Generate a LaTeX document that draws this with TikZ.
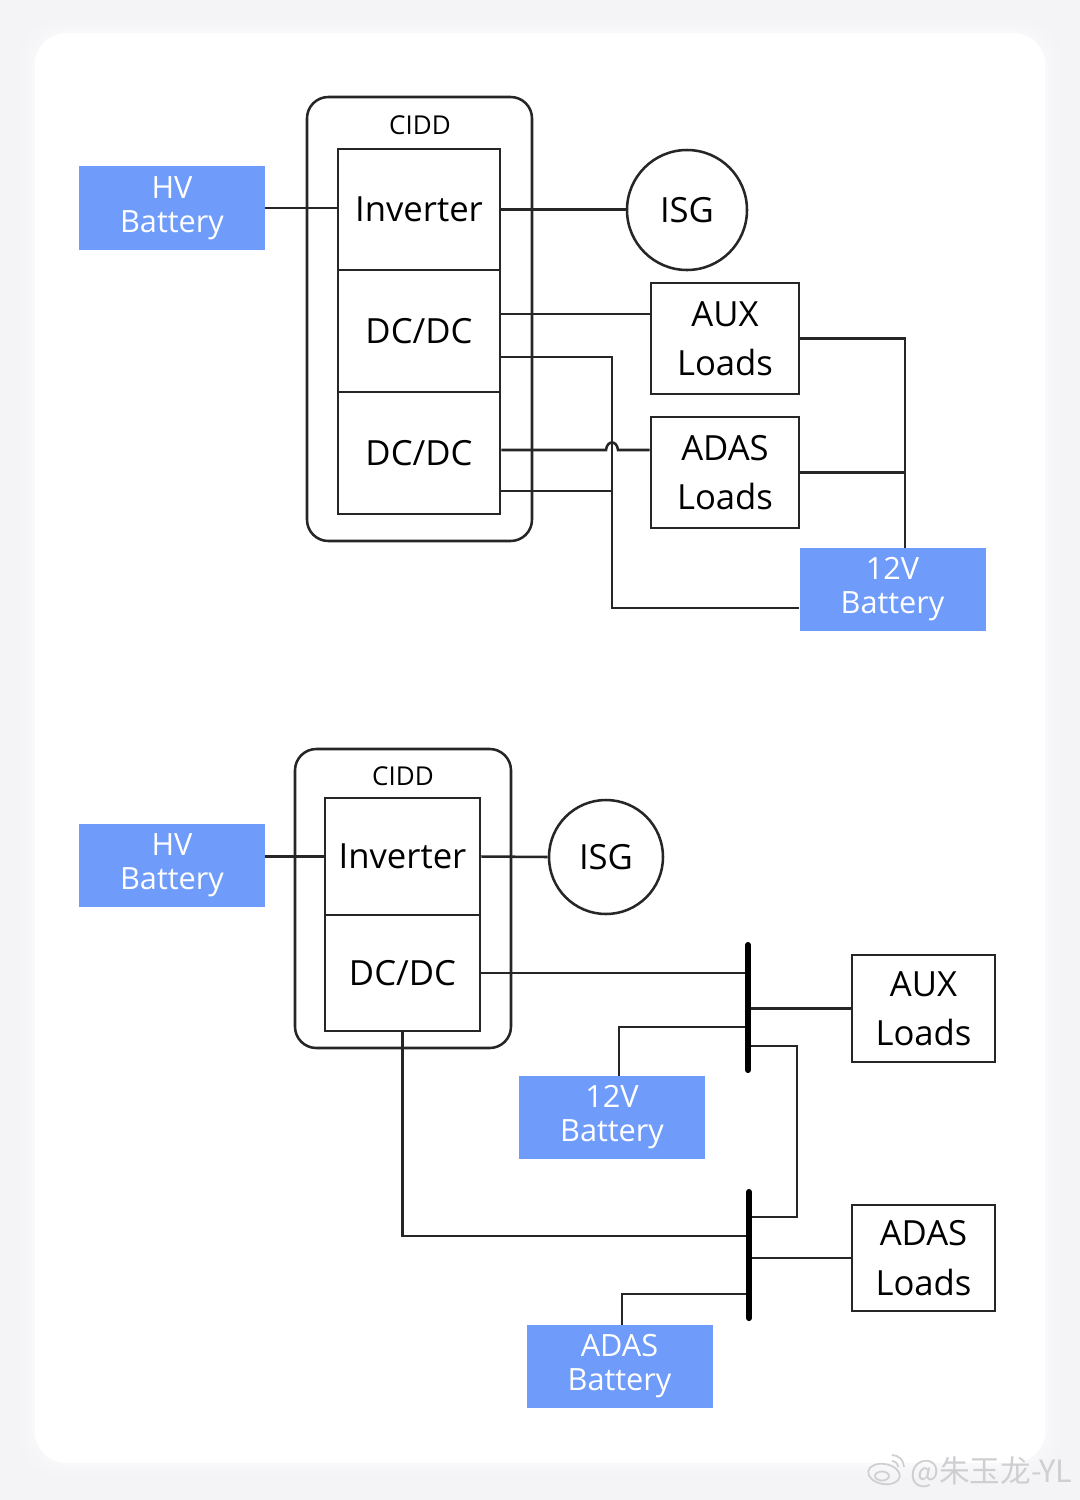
\documentclass[tikz,border=0pt]{standalone}
\usepackage{fontspec}
\setmainfont{Open Sans}
\newfontfamily\cjk{Noto Sans CJK SC}
\usetikzlibrary{calc}
\definecolor{bat}{HTML}{6F9CFB}
\definecolor{bgc}{HTML}{F4F4F7}
\definecolor{wm}{HTML}{CFCFD2}
\tikzset{
  wire/.style={line width=1.9pt, draw=black!85},
  bus/.style={line width=4.6pt, draw=black, line cap=round},
  battery/.style={fill=bat, text=white, inner sep=0pt, align=center,
     font=\fontsize{23}{25.5}\selectfont, minimum width=139.5pt, minimum height=62.5pt},
  blk/.style={draw=black!85, line width=1.9pt, fill=white, inner sep=0pt, align=center,
     font=\fontsize{26}{37}\selectfont},
  cidd/.style={draw=black!85, line width=1.9pt, rounded corners=16pt, inner sep=0pt},
  ciddlbl/.style={font=\fontsize{19.5}{22}\selectfont, inner sep=0pt},
  isgc/.style={circle, draw=black!85, line width=1.9pt, inner sep=0pt, font=\fontsize{26}{30}\selectfont},
}
\begin{document}
\begin{tikzpicture}[x=0.75pt,y=-0.75pt]
\useasboundingbox (0,0) rectangle (1080,1500);
% background and card
\fill[bgc] (0,0) rectangle (1080,1500);
\foreach \d/\o in {14/0.10,10/0.15,6/0.2,3/0.3}{
  \fill[white, opacity=\o, rounded corners=30pt] (35-\d,33-\d) rectangle (1045+\d,1463+\d);
}
\fill[white, rounded corners=24pt] (35,33) rectangle (1045,1463);

% ================= TOP DIAGRAM =================
\node[cidd, minimum width=168.75pt, minimum height=333pt] (cidd1) at (419.5,319) {};
\node[ciddlbl] (cidd1l) at (420,125) {CIDD};
\node[battery] (hv1) at (172,208) {HV\\Battery};
\node[blk, minimum width=121.5pt, minimum height=90.75pt] (inv1) at (419,209.5) {Inverter};
\node[blk, minimum width=121.5pt, minimum height=91.5pt] (dc1a) at (419,331) {DC/DC};
\node[blk, minimum width=121.5pt, minimum height=91.5pt] (dc1b) at (419,453) {DC/DC};
\node[isgc, minimum size=90pt] (isg1) at (687,210) {ISG};
\node[blk, minimum width=111pt, minimum height=83.25pt] (aux1) at (725,338.5) {AUX\\Loads};
\node[blk, minimum width=111pt, minimum height=83.25pt] (adas1) at (725,472.5) {ADAS\\Loads};
\node[battery] (b12a) at (892.5,589.5) {12V\\Battery};

\coordinate (jx) at (612,0);
\coordinate (kx) at (905,0);
\coordinate (a1) at ($(dc1a.east)+(0,-17)$);
\coordinate (a2) at ($(dc1a.east)+(0,26)$);
\coordinate (a3) at ($(dc1b.east)+(0,-3)$);
\coordinate (a4) at ($(dc1b.east)+(0,38)$);
\coordinate (b12in) at ($(b12a.west)+(0,18.5)$);
\coordinate (h) at (a3 -| jx);

\draw[wire] (hv1.east) -- (hv1.east -| inv1.west);
\draw[wire] (inv1.east) -- (inv1.east -| isg1.west);
\draw[wire] (a1) -- (a1 -| aux1.west);
\draw[wire] (a2) -- (a2 -| jx) -- (jx |- b12in) -- (b12in);
\draw[wire] (a3) -- ($(h)+(-6,0)$) .. controls ($(h)+(-5,-10)$) and ($(h)+(5,-10)$) .. ($(h)+(6,0)$) -- (a3 -| adas1.west);
\draw[wire] (a4) -- (a4 -| jx);
\draw[wire] (aux1.east) -- (aux1.east -| kx) -- (kx |- b12a.north);
\draw[wire] (adas1.east) -- (adas1.east -| kx);

% ================= BOTTOM DIAGRAM =================
\node[cidd, minimum width=162pt, minimum height=224.25pt] (cidd2) at (403,898.5) {};
\node[ciddlbl] (cidd2l) at (403,776) {CIDD};
\node[battery] (hv2) at (172,865.5) {HV\\Battery};
\node[blk, minimum width=116.25pt, minimum height=87.75pt] (inv2) at (402.5,856.5) {Inverter};
\node[blk, minimum width=116.25pt, minimum height=87pt] (dc2) at (402.5,973) {DC/DC};
\node[isgc, minimum size=85.5pt] (isg2) at (606,857) {ISG};
\node[blk, minimum width=107.25pt, minimum height=80.25pt] (aux2) at (923.5,1008.5) {AUX\\Loads};
\node[battery] (b12b) at (612,1117.5) {12V\\Battery};
\node[blk, minimum width=107.25pt, minimum height=79.5pt] (adas2) at (923.5,1258) {ADAS\\Loads};
\node[battery] (adasb) at (619.5,1366.5) {ADAS\\Battery};

\coordinate (bus1t) at (748,945);
\coordinate (bus1b) at (748,1070);
\coordinate (bus2t) at (749,1192);
\coordinate (bus2b) at (749,1318);
\coordinate (rx) at (797,0);
\coordinate (p1) at (748,1027);
\coordinate (p2) at (748,1046);
\coordinate (p3) at (749,1217);
\coordinate (p4) at (749,1236);
\coordinate (p5) at (749,1294);
\coordinate (c1) at ($(b12b.north)+(7,0)$);
\coordinate (c2) at ($(adasb.north)+(2.5,0)$);

\draw[wire] (hv2.east |- inv2.west) -- (inv2.west);
\draw[wire] (inv2.east) -- (isg2.west);
\draw[wire] (dc2.east) -- (dc2.east -| bus1t);
\draw[wire] (aux2.west) -- (aux2.west -| bus1t);
\draw[wire] (c1) |- (p1);
\draw[wire] (p2) -- (p2 -| rx) -- (rx |- p3) -- (p3);
\draw[wire] (dc2.south) |- (p4);
\draw[wire] (adas2.west) -- (adas2.west -| bus2t);
\draw[wire] (c2) |- (p5);
\draw[bus] (bus1t) -- (bus1b);
\draw[bus] (bus2t) -- (bus2b);

% watermark
\begin{scope}[draw=wm, line width=1.3pt]
\draw[rotate around={-10:(884,1474)}] (884,1474) ellipse [x radius=16, y radius=10];
\draw (882,1476) ellipse [x radius=7, y radius=4.5];
\draw (892,1461) arc[start angle=-90, end angle=0, radius=6];
\draw (892,1455) arc[start angle=-90, end angle=0, radius=12];
\end{scope}
\node[text=wm, font=\cjk\fontsize{23}{26}\selectfont, anchor=west, inner sep=0pt] (wmt) at (910,1472) {@朱玉龙-YL};
\end{tikzpicture}
\end{document}
